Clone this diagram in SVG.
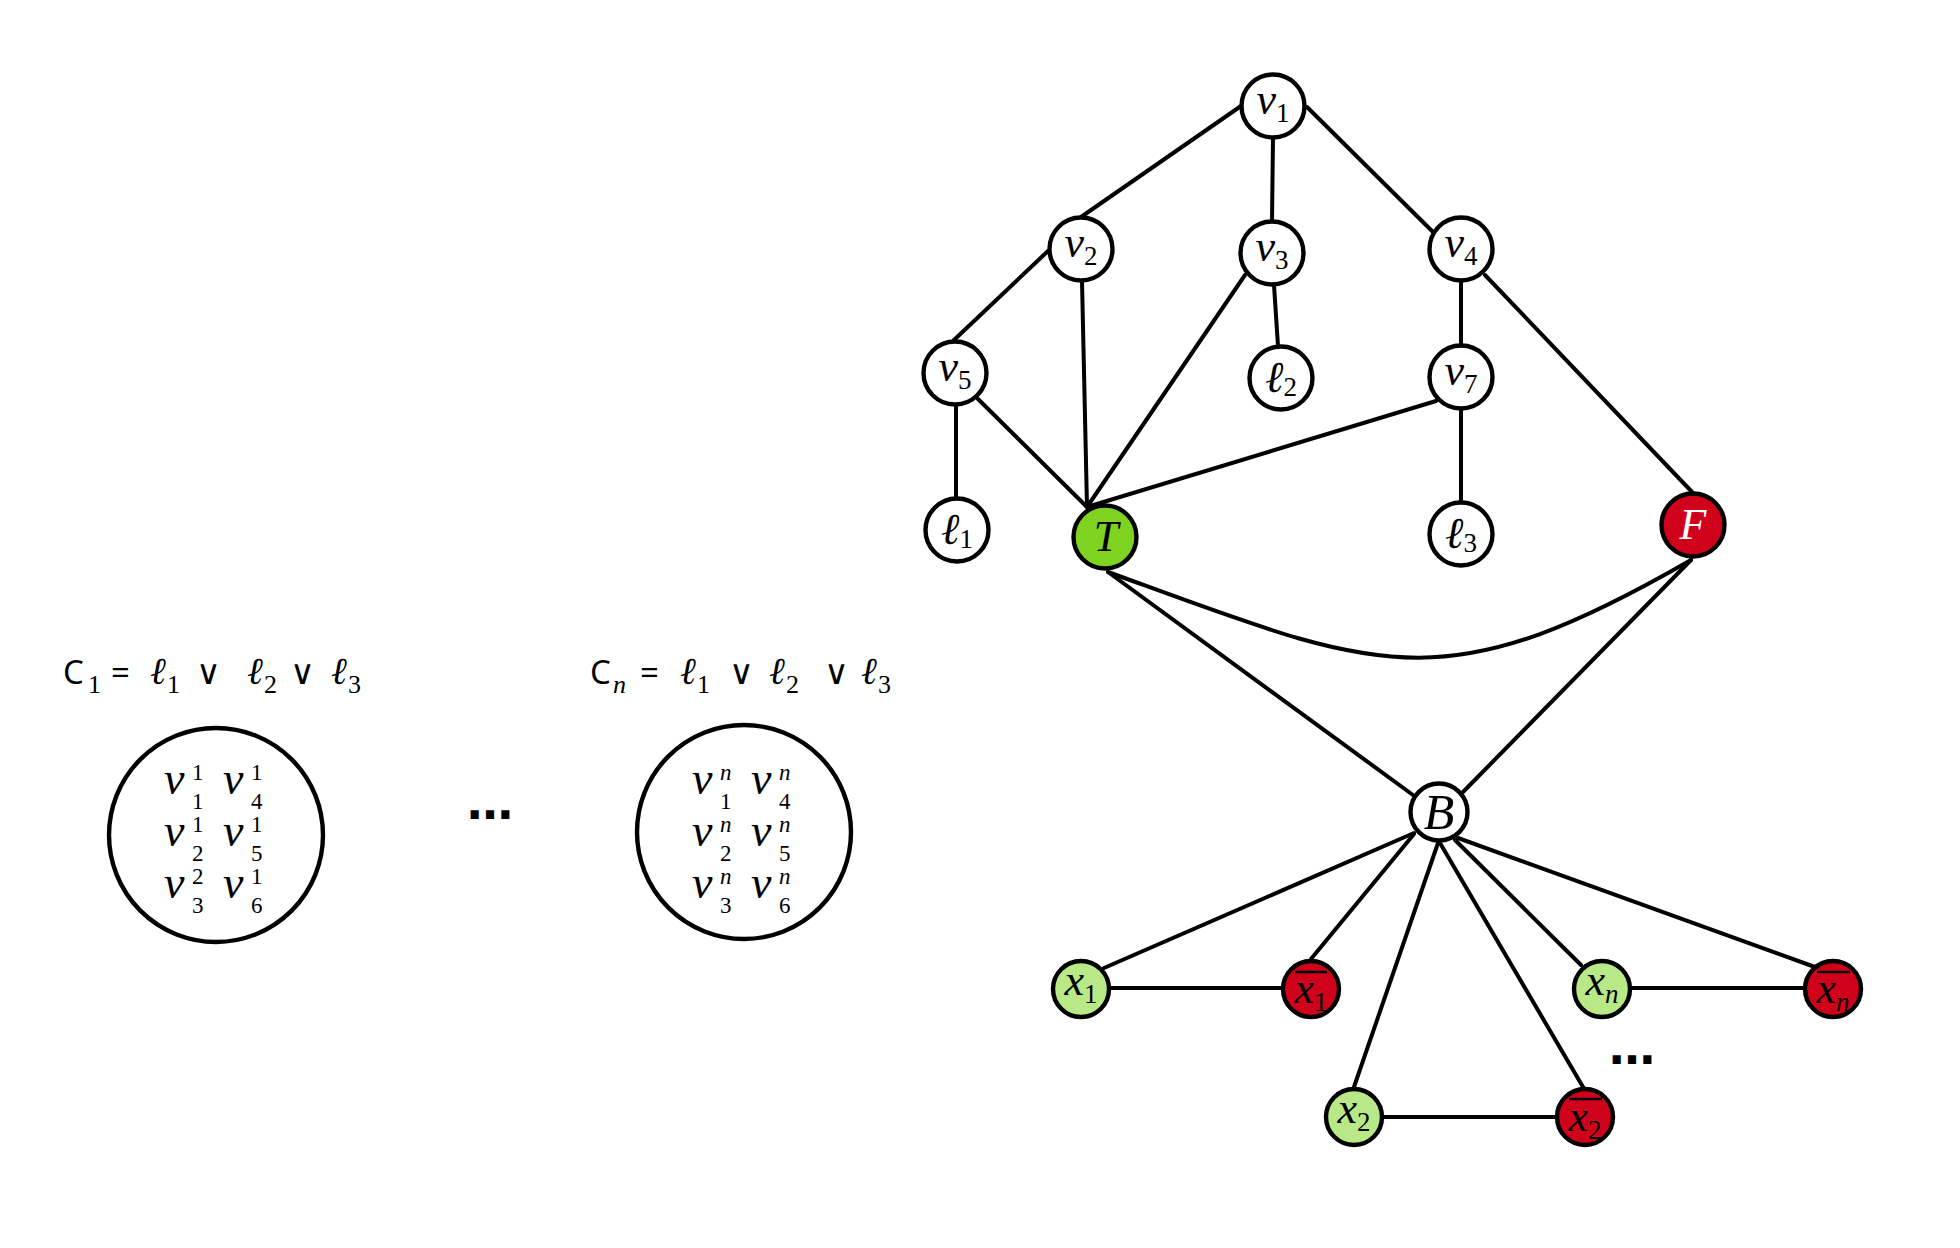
<svg xmlns="http://www.w3.org/2000/svg" width="1960" height="1248" viewBox="0 0 1960 1248">
<style>
.e{stroke:#000;stroke-width:4;fill:none;stroke-linecap:round}
.n{stroke:#000;stroke-width:4.4;fill:#fff}
.big{stroke:#000;stroke-width:4.4;fill:none}
.tg{fill:#7ed321}.fr{fill:#d0021b}.lg{fill:#b8e986}
.m{font-family:"Liberation Serif","DejaVu Serif",serif;font-style:italic;font-size:44px;fill:#000}
.s{font-style:normal;font-size:27px}
.si{font-size:27px}
.ov{stroke:#000;stroke-width:2.6}
.h{font-family:"Noto Sans","Liberation Sans",sans-serif;font-size:33px;fill:#000}
.hl{font-family:"Liberation Serif","DejaVu Serif",serif;font-style:italic;font-size:38px;fill:#000}
.hd{font-family:"Liberation Serif","DejaVu Serif",serif;font-size:26px;fill:#000}
.hdi{font-family:"Liberation Serif","DejaVu Serif",serif;font-style:italic;font-size:26px;fill:#000}
.or{font-family:"DejaVu Sans",sans-serif;font-size:34px;fill:#000}
.iv{font-family:"Liberation Serif","DejaVu Serif",serif;font-style:italic;font-size:46px;fill:#000}
.id{font-family:"Liberation Serif","DejaVu Serif",serif;font-size:23px;fill:#000}
.idi{font-family:"Liberation Serif","DejaVu Serif",serif;font-style:italic;font-size:23px;fill:#000}
.dots{font-family:"DejaVu Sans",sans-serif;font-weight:bold;font-size:46px;fill:#000}
</style>

<g id="connectors">
<path class="e" d="M1241,106 L1081,217"/>
<path class="e" d="M1273,138 L1272,221"/>
<path class="e" d="M1307,107 L1433,232"/>
<path class="e" d="M1048,251 L954,340"/>
<path class="e" d="M1082,281 L1087,507"/>
<path class="e" d="M1245,275 L1087,507"/>
<path class="e" d="M1274,285 L1278,346"/>
<path class="e" d="M1461,281 L1461,345"/>
<path class="e" d="M1485,275 L1693,493"/>
<path class="e" d="M956,405 L956,498"/>
<path class="e" d="M978,399 L1087,507"/>
<path class="e" d="M1436,401 L1087,507"/>
<path class="e" d="M1461,409 L1461,502"/>
<path class="e" d="M1108,572 C1380,671 1439,705 1691,560"/>
<path class="e" d="M1108,572 L1413,795"/>
<path class="e" d="M1691,560 L1463,792"/>
<path class="e" d="M1414,833 L1104,968"/>
<path class="e" d="M1414,834 L1311,959"/>
<path class="e" d="M1438,843 L1354,1087"/>
<path class="e" d="M1440,843 L1583,1087"/>
<path class="e" d="M1455,840 L1581,965"/>
<path class="e" d="M1458,838 L1815,967"/>
<path class="e" d="M1110,988 L1282,988"/>
<path class="e" d="M1383,1117 L1556,1117"/>
<path class="e" d="M1631,988 L1804,988"/>
</g>

<g id="v1"><circle class="n" cx="1273" cy="106" r="31.5"/><text class="m" x="1273" y="114" text-anchor="middle">v<tspan class="s" dy="8">1</tspan></text></g>
<g id="v2"><circle class="n" cx="1081" cy="249" r="31.5"/><text class="m" x="1081" y="257" text-anchor="middle">v<tspan class="s" dy="8">2</tspan></text></g>
<g id="v3"><circle class="n" cx="1272" cy="253" r="31.5"/><text class="m" x="1272" y="261" text-anchor="middle">v<tspan class="s" dy="8">3</tspan></text></g>
<g id="v4"><circle class="n" cx="1461" cy="249" r="31.5"/><text class="m" x="1461" y="257" text-anchor="middle">v<tspan class="s" dy="8">4</tspan></text></g>
<g id="v5"><circle class="n" cx="955" cy="373" r="31.5"/><text class="m" x="955" y="381" text-anchor="middle">v<tspan class="s" dy="8">5</tspan></text></g>
<g id="l2"><circle class="n" cx="1281" cy="378" r="31.5"/><text class="m" x="1281" y="392" text-anchor="middle">ℓ<tspan class="s" dy="4">2</tspan></text></g>
<g id="v7"><circle class="n" cx="1461" cy="377" r="31.5"/><text class="m" x="1461" y="385" text-anchor="middle">v<tspan class="s" dy="8">7</tspan></text></g>
<g id="l1"><circle class="n" cx="957" cy="530" r="31.5"/><text class="m" x="957" y="544" text-anchor="middle">ℓ<tspan class="s" dy="4">1</tspan></text></g>
<g id="T"><circle class="n tg" cx="1105" cy="537" r="31.5"/><text class="m" x="1106" y="551" text-anchor="middle">T</text></g>
<g id="l3"><circle class="n" cx="1461" cy="534" r="31.5"/><text class="m" x="1461" y="548" text-anchor="middle">ℓ<tspan class="s" dy="4">3</tspan></text></g>
<g id="F"><circle class="n fr" cx="1693" cy="525" r="31.5"/><text class="m" x="1693" y="539" text-anchor="middle" style="fill:#fff">F</text></g>
<g id="B"><circle class="n" cx="1439" cy="812" r="28.5"/><text class="m" x="1439" y="829" text-anchor="middle" style="font-size:50px">B</text></g>

<g id="x1"><circle class="n lg" cx="1081" cy="989" r="28"/><text class="m" x="1081" y="995" text-anchor="middle">x<tspan class="s" dy="8">1</tspan></text></g>
<g id="x1bar"><circle class="n fr" cx="1311" cy="989" r="28"/><line class="ov" x1="1295" y1="972" x2="1327" y2="972"/><text class="m" x="1311" y="1003" text-anchor="middle">x<tspan class="s" dy="8">1</tspan></text></g>
<g id="xn"><circle class="n lg" cx="1602" cy="989" r="28"/><text class="m" x="1602" y="995" text-anchor="middle">x<tspan class="si" dy="8">n</tspan></text></g>
<g id="xnbar"><circle class="n fr" cx="1833" cy="989" r="28"/><line class="ov" x1="1817" y1="972" x2="1850" y2="972"/><text class="m" x="1833" y="1003" text-anchor="middle">x<tspan class="si" dy="8">n</tspan></text></g>
<g id="x2"><circle class="n lg" cx="1354" cy="1117" r="28"/><text class="m" x="1354" y="1123" text-anchor="middle">x<tspan class="s" dy="8">2</tspan></text></g>
<g id="x2bar"><circle class="n fr" cx="1585" cy="1117" r="28"/><line class="ov" x1="1569" y1="1099" x2="1602" y2="1099"/><text class="m" x="1585" y="1131" text-anchor="middle">x<tspan class="s" dy="8">2</tspan></text></g>

<text class="dots" x="1632" y="1064" text-anchor="middle">…</text>

<g id="clause1">
<text class="h" x="63" y="684">C</text><text class="hd" x="88" y="693">1</text>
<text class="h" x="111" y="684">=</text>
<text class="hl" x="150" y="684">ℓ</text><text class="hd" x="167" y="693">1</text>
<text class="or" x="196" y="684">∨</text>
<text class="hl" x="247" y="684">ℓ</text><text class="hd" x="264" y="693">2</text>
<text class="or" x="290" y="684">∨</text>
<text class="hl" x="331" y="684">ℓ</text><text class="hd" x="348" y="693">3</text>
<circle class="big" cx="216" cy="835" r="107"/>
<text class="iv" x="164" y="794">v</text><text class="id" x="192" y="780">1</text><text class="id" x="192" y="809">1</text>
<text class="iv" x="223" y="794">v</text><text class="id" x="251" y="780">1</text><text class="id" x="251" y="809">4</text>
<text class="iv" x="164" y="846">v</text><text class="id" x="192" y="832">1</text><text class="id" x="192" y="861">2</text>
<text class="iv" x="223" y="846">v</text><text class="id" x="251" y="832">1</text><text class="id" x="251" y="861">5</text>
<text class="iv" x="164" y="898">v</text><text class="id" x="192" y="884">2</text><text class="id" x="192" y="913">3</text>
<text class="iv" x="223" y="898">v</text><text class="id" x="251" y="884">1</text><text class="id" x="251" y="913">6</text>
</g>

<text class="dots" x="490" y="819" text-anchor="middle">…</text>

<g id="clausen">
<text class="h" x="590" y="684">C</text><text class="hdi" x="613" y="693">n</text>
<text class="h" x="640" y="684">=</text>
<text class="hl" x="680" y="684">ℓ</text><text class="hd" x="697" y="693">1</text>
<text class="or" x="729" y="684">∨</text>
<text class="hl" x="769" y="684">ℓ</text><text class="hd" x="786" y="693">2</text>
<text class="or" x="824" y="684">∨</text>
<text class="hl" x="861" y="684">ℓ</text><text class="hd" x="878" y="693">3</text>
<circle class="big" cx="744" cy="832" r="107"/>
<text class="iv" x="692" y="794">v</text><text class="idi" x="720" y="780">n</text><text class="id" x="720" y="809">1</text>
<text class="iv" x="751" y="794">v</text><text class="idi" x="779" y="780">n</text><text class="id" x="779" y="809">4</text>
<text class="iv" x="692" y="846">v</text><text class="idi" x="720" y="832">n</text><text class="id" x="720" y="861">2</text>
<text class="iv" x="751" y="846">v</text><text class="idi" x="779" y="832">n</text><text class="id" x="779" y="861">5</text>
<text class="iv" x="692" y="898">v</text><text class="idi" x="720" y="884">n</text><text class="id" x="720" y="913">3</text>
<text class="iv" x="751" y="898">v</text><text class="idi" x="779" y="884">n</text><text class="id" x="779" y="913">6</text>
</g>
</svg>
